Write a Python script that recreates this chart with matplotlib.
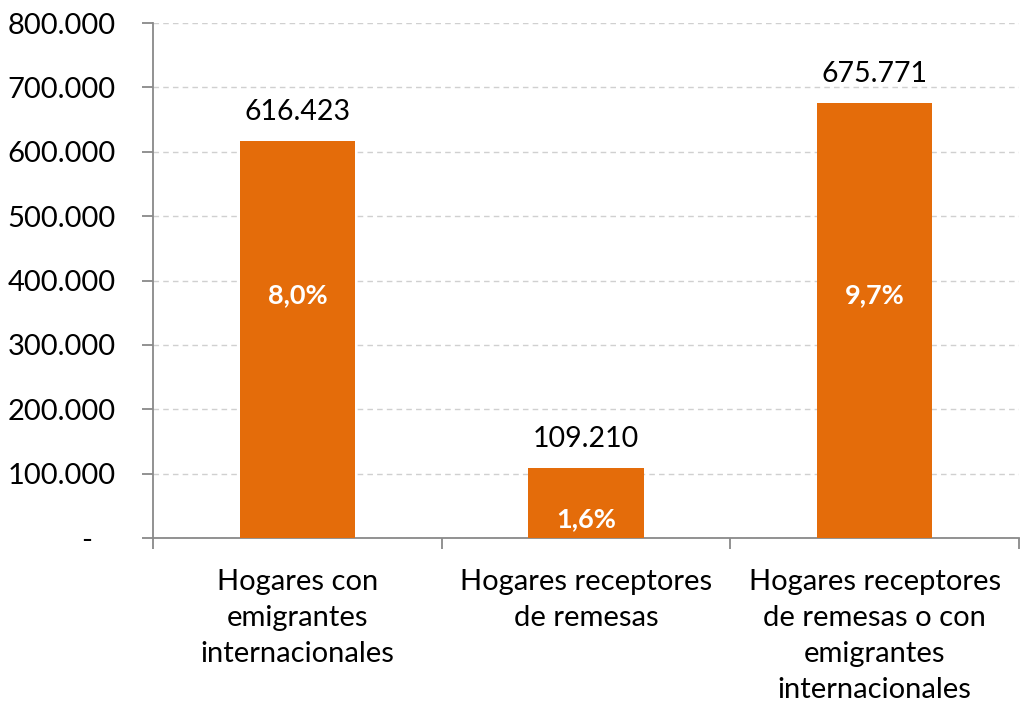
import numpy as np
import matplotlib.pyplot as plt
from matplotlib.ticker import FuncFormatter, FixedLocator

categories = [
    "Hogares con\nemigrantes\ninternacionales",
    "Hogares receptores\nde remesas",
    "Hogares receptores\nde remesas o con\nemigrantes\ninternacionales",
]
values = [616423, 109210, 675771]
shares = ["8,0%", "1,6%", "9,7%"]
share_y = [377000, 30000, 377000]

plt.rcParams['font.family'] = ['Lato', 'DejaVu Sans']

fig = plt.figure(figsize=(10.21, 7.08), dpi=100)
ax = fig.add_axes([0.15, 0.24, 0.848, 0.7275])

x = np.arange(len(categories))
bars = ax.bar(x, values, width=0.4, color="#E46C0A", zorder=3)

for xi, v, s, sy in zip(x, values, shares, share_y):
    ax.text(xi, v + 25000, f"{v:,}".replace(",", "."), ha="center", va="bottom",
            fontsize=20.5, color="black")
    ax.text(xi, sy, s, ha="center", va="center", fontsize=19.5,
            fontweight="bold", color="white", zorder=4)

ax.set_xlim(-0.5, len(categories) - 0.5)
ax.set_ylim(0, 800000)
ax.set_yticks(np.arange(0, 800001, 100000))
ax.yaxis.set_major_formatter(FuncFormatter(
    lambda v, p: "-   " if v == 0 else f"{int(v):,}".replace(",", ".")))
ax.grid(axis="y", color="#D0D0D0", linestyle=(0, (4, 3)), linewidth=1, zorder=0)

ax.set_xticks(x)
ax.set_xticklabels(categories, fontsize=21, linespacing=1.48)
ax.tick_params(axis="x", length=0, pad=22)
ax.xaxis.set_minor_locator(FixedLocator([-0.5, 0.5, 1.5, 2.5]))
ax.tick_params(axis="x", which="minor", length=8, color="#898989", width=1.3)
ax.tick_params(axis="y", labelsize=21, length=8, color="#898989", width=1.3, pad=19)

for side in ["top", "right"]:
    ax.spines[side].set_visible(False)
for side in ["left", "bottom"]:
    ax.spines[side].set_color("#898989")
    ax.spines[side].set_linewidth(1.3)

fig.savefig("out.png", dpi=100)
